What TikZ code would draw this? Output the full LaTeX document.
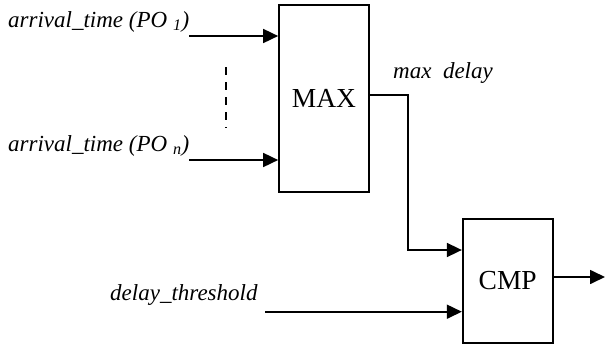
\documentclass[tikz,border=0pt]{standalone}
\usepackage{fontspec}
\setmainfont{Liberation Serif}
\usetikzlibrary{arrows.meta}
\begin{document}
\begin{tikzpicture}[x=1pt,y=-1pt,
  unit/.style={draw, line width=1.7pt, inner sep=0pt, minimum width=90pt,
    font=\fontsize{27.5}{30}\selectfont},
  lbl/.style={inner sep=0pt, anchor=base west, font=\fontsize{23}{26}\selectfont\itshape},
  wire/.style={line width=1.7pt},
  sig/.style={wire, -{Triangle[length=15pt,width=14pt]}}]
\useasboundingbox (0,0) rectangle (605,346);

% blocks
\node[unit, minimum height=187pt] (max) at (324,98.5) {MAX};
\node[unit, minimum height=124pt] (cmp) at (507.7,281) {CMP};

% signal labels
\node[lbl] (l1) at (8,27) {arrival\_time (PO \textsubscript{1})};
\node[lbl] (ln) at (8,151) {arrival\_time (PO \textsubscript{n})};
\node[lbl] (lmax) at (393,78) {max~~delay};
\node[lbl] (lthr) at (110,300) {delay\_threshold};

% wire end points
\coordinate (in1) at (189,36);
\coordinate (inn) at (189,160);
\coordinate (thr) at (265,311.7);
\coordinate (bend) at (407.7,95);
\coordinate (out) at (605,277);
\coordinate (dtop) at (226,67);
\coordinate (dbot) at (226,128);

% inputs of MAX
\draw[sig] (in1) -- (in1 -| max.west);
\draw[sig] (inn) -- (inn -| max.west);
\draw[wire, dash pattern=on 8pt off 7pt] (dtop) -- (dbot);

% max delay into CMP
\draw[sig] (max.east |- bend) -- (bend) |- (cmp.west |- 0,250);
% threshold into CMP
\draw[sig] (thr) -- (thr -| cmp.west);
% comparator output
\draw[sig] (cmp.east |- out) -- (out);
\end{tikzpicture}
\end{document}
